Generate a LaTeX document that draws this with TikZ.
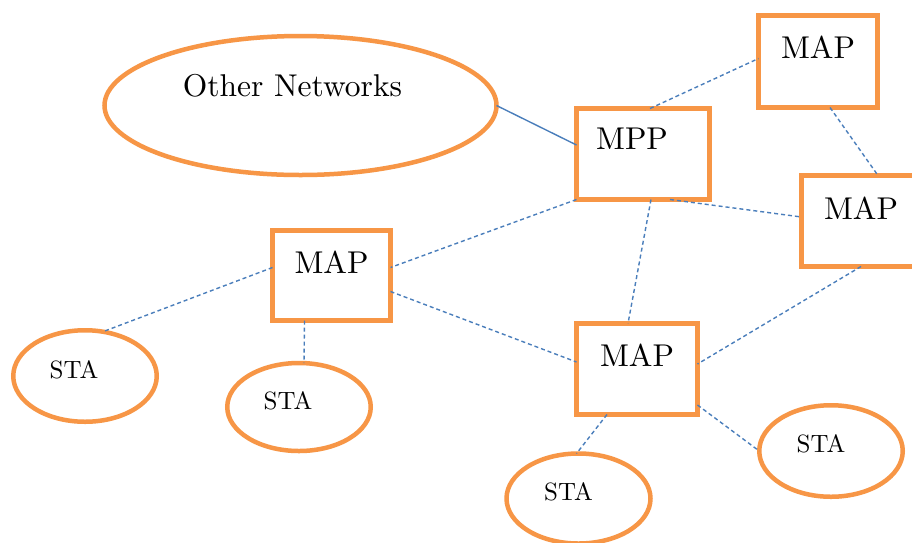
\documentclass[tikz,border=0pt]{standalone}
\usepackage{fontspec}
\setmainfont{lmroman10-regular}[Extension=.otf]
\usetikzlibrary{shapes.geometric,calc}
\definecolor{orng}{HTML}{F79646}
\definecolor{lnk}{HTML}{4A7EBB}
\begin{document}
\begin{tikzpicture}[x=1pt,y=-1pt,
  box/.style={draw=orng,line width=5pt,rectangle,inner sep=0pt,outer sep=0pt,fill=white},
  oval/.style={draw=orng,line width=4.5pt,ellipse,inner sep=0pt,outer sep=0pt,fill=white},
  big/.style={font=\fontsize{31.5}{36}\selectfont,inner sep=0pt},
  small/.style={font=\fontsize{25}{30}\selectfont,inner sep=0pt},
  wire/.style={draw=lnk,line width=1.4pt},
  dwire/.style={draw=lnk,line width=1.4pt,dash pattern=on 4pt off 3pt}]
\useasboundingbox (0,0) rectangle (912,542);
\clip (0,0) rectangle (912,542);
\fill[white] (0,0) rectangle (912,542);
% shapes
\node[oval,minimum width=392pt,minimum height=139pt,label={[big,xshift=-8pt,yshift=20pt]center:Other Networks}] (other) at (300.5,105.5) {};
\node[box,minimum width=133pt,minimum height=91pt,label={[big,xshift=-11pt,yshift=15pt]center:MPP}] (mpp) at (643,154) {};
\node[box,minimum width=119pt,minimum height=92pt,label={[big,yshift=14pt]center:MAP}] (maptr) at (818,61.5) {};
\node[box,minimum width=119pt,minimum height=91pt,label={[big,yshift=13pt]center:MAP}] (mapr) at (861,221) {};
\node[box,minimum width=118pt,minimum height=90pt,label={[big,yshift=13pt]center:MAP}] (mapl) at (331.5,275.5) {};
\node[box,minimum width=121pt,minimum height=91pt,label={[big,yshift=14pt]center:MAP}] (mapc) at (637,369) {};
\node[oval,minimum width=143.5pt,minimum height=91.5pt,label={[small,xshift=-11pt,yshift=6pt]center:STA}] (sta1) at (85,376) {};
\node[oval,minimum width=143.5pt,minimum height=88pt,label={[small,xshift=-11pt,yshift=6pt]center:STA}] (sta2) at (299,407) {};
\node[oval,minimum width=144pt,minimum height=90pt,label={[small,xshift=-10pt,yshift=7pt]center:STA}] (sta3) at (578.5,498.5) {};
\node[oval,minimum width=143.5pt,minimum height=91.5pt,label={[small,xshift=-10pt,yshift=7pt]center:STA}] (sta4) at (831,451) {};
% connectors
\draw[wire] (other.east) -- ($(mpp.west)+(0,-9)$);
\draw[dwire] ($(mpp.north)+(7,0)$) -- ($(maptr.west)+(0,-3)$);
\draw[dwire] ($(maptr.south)+(12,0)$) -- ($(mapr.north)+(17,0)$);
\draw[dwire] ($(mpp.south)+(27,0)$) -- ($(mapr.west)+(0,-4)$);
\draw[dwire] (mpp.south west) -- ($(mapl.east)+(0,-8)$);
\draw[dwire] ($(mpp.south)+(8,0)$) -- ($(mapc.north)+(-9,0)$);
\draw[dwire] ($(mapl.east)+(0,16)$) -- ($(mapc.west)+(0,-7)$);
\draw[dwire] (mapr.south) -- ($(mapc.east)+(0,-5)$);
\draw[dwire] ($(mapl.west)+(0,-8)$) -- (sta1.68);
\draw[dwire] ($(mapl.south)+(-27,0)$) -- ($(sta2.north)+(5,0)$);
\draw[dwire] ($(mapc.south)+(-30,0)$) -- ($(sta3.north)+(-2,0)$);
\draw[dwire] ($(mapc.east)+(0,36)$) -- (sta4.west);
\end{tikzpicture}
\end{document}
